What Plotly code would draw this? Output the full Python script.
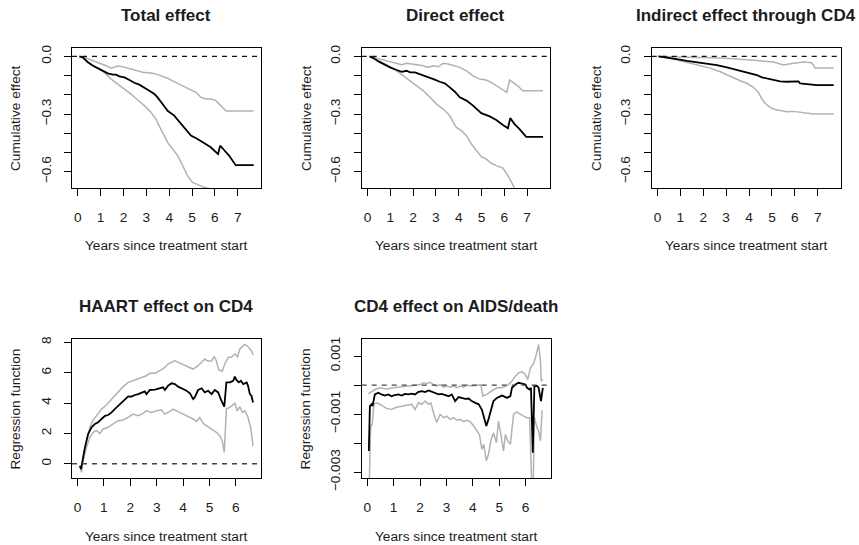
import plotly.graph_objects as go

W, H = 859, 545
FONT = "Liberation Sans, Arial, Helvetica, sans-serif"
TXT = "#1c1c1c"
GREY = "#b2b2b2"

# ---------------- Total effect (cumulative) ----------------
tot_est_t = [0.07, 0.22, 0.44, 0.66, 0.87, 1.09, 1.31, 1.53, 1.67, 1.82, 2.04, 2.26, 2.47, 2.69, 2.91,
             3.13, 3.35, 3.49, 3.71, 3.93, 4.22, 4.44, 4.66, 4.95, 5.24, 5.53, 5.82, 6.14, 6.23, 6.40,
             6.62, 6.91, 7.70]
tot_est = [0.0, -0.005, -0.031, -0.049, -0.061, -0.075, -0.088, -0.095, -0.095, -0.104, -0.109, -0.123,
           -0.137, -0.147, -0.161, -0.179, -0.196, -0.213, -0.248, -0.283, -0.308, -0.338, -0.373, -0.412,
           -0.430, -0.451, -0.473, -0.508, -0.464, -0.487, -0.516, -0.566, -0.566]
tot_hi_t = [0.07, 0.29, 0.58, 0.87, 1.16, 1.46, 1.60, 1.75, 1.97, 2.18, 2.40, 2.62, 2.84, 3.06, 3.28,
            3.49, 3.71, 3.93, 4.15, 4.37, 4.59, 4.80, 5.02, 5.17, 5.39, 5.60, 5.82, 6.04, 6.26, 6.48, 7.70]
tot_hi = [0.0, -0.005, -0.019, -0.031, -0.045, -0.061, -0.057, -0.050, -0.054, -0.061, -0.071, -0.075,
          -0.083, -0.085, -0.088, -0.095, -0.104, -0.114, -0.127, -0.140, -0.153, -0.166, -0.175, -0.187,
          -0.213, -0.222, -0.222, -0.230, -0.256, -0.284, -0.284]
tot_lo_t = [0.07, 0.29, 0.58, 0.87, 1.16, 1.46, 1.75, 2.04, 2.33, 2.62, 2.91, 3.20, 3.42, 3.52, 3.71,
            3.93, 4.15, 4.37, 4.59, 4.80, 5.02, 5.24, 5.53, 5.80, 6.50, 7.70]
tot_lo = [0.0, -0.014, -0.040, -0.061, -0.083, -0.118, -0.144, -0.170, -0.196, -0.227, -0.256, -0.291,
          -0.326, -0.352, -0.395, -0.447, -0.482, -0.516, -0.568, -0.620, -0.655, -0.667, -0.681, -0.690,
          -0.750, -0.820]

# ---------------- Direct effect (cumulative) ----------------
dir_est_t = [0.09, 0.26, 0.48, 0.70, 0.99, 1.28, 1.50, 1.72, 1.86, 2.08, 2.30, 2.52, 2.74, 2.95, 3.17,
             3.39, 3.61, 3.83, 4.05, 4.34, 4.63, 4.99, 5.36, 5.65, 5.94, 6.16, 6.26, 6.45, 6.67, 6.96, 7.70]
dir_est = [0.0, -0.009, -0.026, -0.040, -0.057, -0.071, -0.080, -0.075, -0.083, -0.083, -0.092, -0.104,
           -0.109, -0.121, -0.132, -0.140, -0.161, -0.184, -0.213, -0.230, -0.256, -0.295, -0.312, -0.331,
           -0.357, -0.374, -0.321, -0.352, -0.378, -0.419, -0.419]
dir_hi_t = [0.09, 0.41, 0.70, 0.99, 1.28, 1.50, 1.72, 1.94, 2.15, 2.45, 2.66, 2.88, 3.10, 3.32, 3.54,
            3.76, 4.05, 4.34, 4.63, 4.92, 5.21, 5.50, 5.79, 6.11, 6.23, 6.38, 6.59, 6.81, 7.70]
dir_hi = [0.0, -0.010, -0.019, -0.028, -0.036, -0.043, -0.036, -0.040, -0.045, -0.049, -0.057, -0.049,
          -0.054, -0.036, -0.040, -0.049, -0.057, -0.075, -0.101, -0.118, -0.123, -0.140, -0.161, -0.187,
          -0.123, -0.135, -0.153, -0.179, -0.179]
dir_lo_t = [0.09, 0.41, 0.70, 0.99, 1.28, 1.57, 1.86, 2.15, 2.45, 2.74, 3.03, 3.32, 3.46, 3.61, 3.76,
            3.90, 4.12, 4.34, 4.56, 4.77, 4.99, 5.21, 5.43, 5.65, 5.94, 6.16, 6.30, 6.45, 6.80, 7.70]
dir_lo = [0.0, -0.019, -0.036, -0.054, -0.075, -0.101, -0.127, -0.153, -0.179, -0.213, -0.248, -0.274,
          -0.288, -0.308, -0.343, -0.369, -0.386, -0.412, -0.456, -0.490, -0.522, -0.534, -0.556, -0.568,
          -0.581, -0.620, -0.655, -0.685, -0.750, -0.850]

# ---------------- Indirect effect through CD4 (cumulative) ----------------
ind_est_t = [0.04, 0.41, 0.84, 1.28, 1.72, 2.15, 2.59, 3.03, 3.46, 3.90, 4.34, 4.56, 4.77, 5.07, 5.36,
             5.65, 5.94, 6.16, 6.23, 6.52, 6.96, 7.70]
ind_est = [0.0, -0.005, -0.014, -0.023, -0.031, -0.036, -0.045, -0.057, -0.071, -0.083, -0.097, -0.109,
           -0.114, -0.123, -0.130, -0.132, -0.132, -0.130, -0.140, -0.144, -0.149, -0.149]
ind_hi_t = [0.04, 0.99, 1.86, 2.74, 3.32, 3.90, 4.48, 5.07, 5.50, 5.94, 6.38, 6.74, 6.89, 7.70]
ind_hi = [0.0, -0.002, -0.005, -0.009, -0.012, -0.016, -0.023, -0.029, -0.045, -0.036, -0.029, -0.033,
          -0.061, -0.061]
ind_lo_t = [0.04, 0.55, 0.99, 1.43, 1.86, 2.30, 2.74, 3.17, 3.61, 3.90, 4.19, 4.41, 4.56, 4.70, 4.92,
            5.14, 5.36, 5.65, 5.94, 6.23, 6.52, 6.81, 7.70]
ind_lo = [0.0, -0.010, -0.023, -0.036, -0.049, -0.061, -0.080, -0.104, -0.127, -0.140, -0.161, -0.187,
          -0.222, -0.244, -0.265, -0.276, -0.282, -0.288, -0.286, -0.291, -0.296, -0.300, -0.300]

# ---------------- HAART effect on CD4 (regression function) ----------------
haart_t = [0.09, 0.13, 0.18, 0.28, 0.40, 0.53, 0.66, 0.78, 0.91, 1.04, 1.16, 1.29, 1.41, 1.54, 1.67,
           1.79, 1.92, 2.05, 2.17, 2.30, 2.42, 2.55, 2.61, 2.74, 2.93, 3.12, 3.24, 3.31, 3.43, 3.56,
           3.69, 3.81, 4.00, 4.13, 4.26, 4.38, 4.44, 4.57, 4.70, 4.82, 4.95, 5.08, 5.20, 5.33, 5.45,
           5.56, 5.64, 5.77, 5.90, 5.96, 6.02, 6.11, 6.19, 6.28, 6.41, 6.46, 6.53, 6.59, 6.65]
haart_est = [-0.13, -0.35, 0.09, 1.08, 1.96, 2.40, 2.62, 2.73, 2.95, 3.16, 3.21, 3.38, 3.60, 3.82, 4.04,
             4.26, 4.44, 4.42, 4.53, 4.59, 4.66, 4.77, 4.59, 4.86, 4.88, 4.97, 5.03, 4.86, 5.14, 5.30,
             5.25, 5.08, 4.92, 4.81, 4.64, 4.26, 4.37, 4.86, 4.97, 4.70, 4.81, 4.59, 4.86, 4.70, 4.15,
             3.76, 5.36, 5.36, 5.47, 5.74, 5.52, 5.36, 5.47, 5.25, 5.36, 5.14, 4.59, 4.48, 4.04]
haart_hi_t = [0.09, 0.15, 0.21, 0.34, 0.47, 0.59, 0.78, 0.91, 1.10, 1.29, 1.54, 1.73, 1.92, 2.17, 2.36,
              2.49, 2.61, 2.74, 2.93, 3.12, 3.31, 3.43, 3.56, 3.69, 3.81, 4.00, 4.19, 4.38, 4.57, 4.70,
              4.82, 4.95, 5.08, 5.18, 5.26, 5.35, 5.48, 5.58, 5.71, 5.83, 5.96, 6.06, 6.15, 6.28, 6.34,
              6.46, 6.59, 6.65]
haart_hi = [-0.13, -0.46, 0.42, 1.52, 2.40, 2.88, 3.32, 3.60, 3.89, 4.26, 4.70, 5.08, 5.36, 5.52, 5.63,
            5.69, 5.80, 5.96, 5.96, 6.13, 6.35, 6.57, 6.68, 6.79, 6.68, 6.53, 6.40, 6.24, 6.46, 6.68,
            6.90, 6.75, 6.79, 7.05, 6.79, 6.18, 6.09, 6.57, 7.01, 7.01, 7.23, 7.05, 7.56, 7.78, 7.86,
            7.71, 7.45, 7.16]
haart_lo_t = [0.09, 0.15, 0.21, 0.34, 0.47, 0.59, 0.72, 0.85, 0.97, 1.16, 1.35, 1.54, 1.73, 1.92, 2.10,
              2.30, 2.49, 2.61, 2.80, 2.99, 3.18, 3.31, 3.50, 3.62, 3.81, 4.00, 4.19, 4.38, 4.51, 4.63,
              4.76, 4.89, 5.08, 5.26, 5.39, 5.48, 5.56, 5.64, 5.77, 5.90, 5.96, 6.05, 6.15, 6.24, 6.34,
              6.46, 6.57, 6.65]
haart_lo = [-0.13, -0.57, 0.20, 1.08, 1.74, 2.07, 2.18, 2.00, 2.29, 2.40, 2.62, 2.84, 2.88, 3.05, 3.27,
            3.16, 3.32, 3.49, 3.38, 3.49, 3.54, 3.27, 3.45, 3.60, 3.43, 3.27, 3.16, 2.95, 2.79, 3.05,
            2.66, 2.51, 2.29, 2.07, 1.85, 1.52, 0.75, 3.60, 3.71, 3.93, 3.98, 3.49, 3.76, 3.38, 3.49,
            3.05, 2.29, 1.16]

# ---------------- CD4 effect on AIDS/death (regression function) ----------------
aids_t = [0.06, 0.10, 0.16, 0.20, 0.29, 0.42, 0.54, 0.67, 0.80, 0.92, 1.05, 1.18, 1.30, 1.43, 1.56,
          1.68, 1.81, 1.94, 2.06, 2.19, 2.32, 2.44, 2.57, 2.70, 2.82, 2.95, 3.08, 3.20, 3.33, 3.46,
          3.58, 3.71, 3.84, 3.96, 4.09, 4.22, 4.34, 4.43, 4.51, 4.59, 4.68, 4.78, 4.91, 5.04, 5.10,
          5.16, 5.29, 5.42, 5.48, 5.61, 5.73, 5.86, 5.99, 6.05, 6.15, 6.20, 6.27, 6.33, 6.43, 6.49,
          6.58, 6.65]
aids_est = [-0.00227, -0.00072, -0.00066, -0.00072, -0.00032, -0.00026, -0.00032, -0.00036, -0.00032,
            -0.00038, -0.00034, -0.00032, -0.00036, -0.00030, -0.00032, -0.00029, -0.00032, -0.00023,
            -0.00021, -0.00024, -0.00018, -0.00023, -0.00029, -0.00032, -0.00030, -0.00034, -0.00038,
            -0.00032, -0.00055, -0.00041, -0.00044, -0.00047, -0.00046, -0.00055, -0.00061, -0.00066,
            -0.00084, -0.00112, -0.00141, -0.00118, -0.00084, -0.00055, -0.00044, -0.00038, -0.00036,
            -0.00038, -0.00044, -0.00038, -0.00009, 0.00002, 0.00008, 0.00005, 0.00002, -0.00009,
            -0.00015, -0.00009, -0.00233, -0.00003, -0.00003, -0.00009, -0.00055, -0.00009]
aids_hi_t = [0.04, 0.29, 0.48, 0.73, 0.99, 1.24, 1.49, 1.75, 2.00, 2.13, 2.25, 2.38, 2.51, 2.63, 2.76,
             2.89, 3.01, 3.14, 3.27, 3.39, 3.52, 3.65, 3.77, 3.96, 4.15, 4.30, 4.38, 4.53, 4.66, 4.78,
             4.91, 5.04, 5.16, 5.35, 5.48, 5.61, 5.73, 5.86, 5.99, 6.08, 6.18, 6.28, 6.37, 6.49, 6.56,
             6.59, 6.65]
aids_hi = [-0.00030, -0.00015, -0.00009, -0.00013, -0.00009, -0.00007, -0.00003, -0.00001, 0.00002,
           0.00008, 0.00005, 0.00010, 0.00002, -0.00003, 0.00002, -0.00007, -0.00003, -0.00007, -0.00003,
           -0.00009, -0.00003, -0.00007, 0.00000, -0.00003, 0.00000, 0.00002, -0.00038, -0.00032,
           -0.00023, -0.00015, -0.00009, -0.00009, -0.00007, 0.00002, 0.00014, 0.00031, 0.00042,
           0.00046, 0.00037, 0.00019, 0.00060, 0.00071, 0.00094, 0.00140, 0.00082, 0.00014, 0.00019]
aids_lo_t = [0.08, 0.13, 0.19, 0.25, 0.35, 0.54, 0.73, 0.92, 1.11, 1.30, 1.49, 1.68, 1.81, 1.94, 2.06,
             2.19, 2.32, 2.41, 2.51, 2.63, 2.76, 2.89, 3.01, 3.14, 3.27, 3.39, 3.52, 3.65, 3.77, 3.90,
             4.03, 4.15, 4.25, 4.34, 4.41, 4.51, 4.59, 4.68, 4.78, 4.89, 4.97, 5.06, 5.16, 5.23, 5.32,
             5.42, 5.48, 5.54, 5.65, 5.80, 5.92, 6.05, 6.15, 6.22, 6.24, 6.29, 6.33, 6.43, 6.49, 6.56,
             6.62, 6.65]
aids_lo = [-0.00330, -0.00141, -0.00135, -0.00066, -0.00061, -0.00069, -0.00080, -0.00084, -0.00076,
           -0.00072, -0.00070, -0.00066, -0.00084, -0.00061, -0.00066, -0.00055, -0.00066, -0.00061,
           -0.00095, -0.00129, -0.00101, -0.00112, -0.00107, -0.00118, -0.00112, -0.00121, -0.00118,
           -0.00126, -0.00121, -0.00126, -0.00141, -0.00158, -0.00170, -0.00221, -0.00204, -0.00261,
           -0.00238, -0.00192, -0.00164, -0.00198, -0.00124, -0.00170, -0.00227, -0.00170, -0.00192,
           -0.00204, -0.00147, -0.00101, -0.00092, -0.00101, -0.00107, -0.00112, -0.00112, -0.00318,
           -0.00350, -0.00324, -0.00112, -0.00147, -0.00158, -0.00192, -0.00089, -0.00089]

# ---------------- axis ticks ----------------
top_xticks = [0, 1, 2, 3, 4, 5, 6, 7]
bot_xticks = [0, 1, 2, 3, 4, 5, 6]
cum_yticks = [0.0, -0.1, -0.2, -0.3, -0.4, -0.5, -0.6]
cum_ylabels = ["0.0", "", "", "\u22120.3", "", "", "\u22120.6"]
haart_yticks = [0, 2, 4, 6, 8]
haart_ylabels = ["0", "2", "4", "6", "8"]
aids_yticks = [0.001, 0.0, -0.001, -0.002, -0.003]
aids_ylabels = ["0.001", "", "\u22120.001", "", "\u22120.003"]

XLAB = "Years since treatment start"


def px_x(p):
    return p / W


def px_y(p):
    return 1 - p / H


panels = [
    dict(title="Total effect", ylab="Cumulative effect", box=(72, 260.7, 48.3, 188.3),
         xr=[-0.255, 8.005], yr=[-0.686, 0.042], xt=top_xticks, yt=cum_yticks, ytl=cum_ylabels,
         series=[(tot_hi_t, tot_hi, GREY), (tot_lo_t, tot_lo, GREY), (tot_est_t, tot_est, "#000000")],
         dash="#111111", xlab_y=245.7, title_y=15.9, ylab_x=15.8),
    dict(title="Direct effect", ylab="Cumulative effect", box=(361.7, 550.0, 48.3, 188.3),
         xr=[-0.255, 8.005], yr=[-0.686, 0.042], xt=top_xticks, yt=cum_yticks, ytl=cum_ylabels,
         series=[(dir_hi_t, dir_hi, GREY), (dir_lo_t, dir_lo, GREY), (dir_est_t, dir_est, "#000000")],
         dash="#111111", xlab_y=245.7, title_y=15.9, ylab_x=305.8),
    dict(title="Indirect effect through CD4", ylab="Cumulative effect", box=(651.7, 840.7, 48.3, 188.3),
         xr=[-0.255, 8.005], yr=[-0.686, 0.042], xt=top_xticks, yt=cum_yticks, ytl=cum_ylabels,
         series=[(ind_hi_t, ind_hi, GREY), (ind_lo_t, ind_lo, GREY), (ind_est_t, ind_est, "#000000")],
         dash="#111111", xlab_y=245.7, title_y=15.9, ylab_x=595.8),
    dict(title="HAART effect on CD4", ylab="Regression function", box=(72, 260.7, 339.3, 478.3),
         xr=[-0.21, 6.94], yr=[-0.96, 8.2], xt=bot_xticks, yt=haart_yticks, ytl=haart_ylabels,
         series=[(haart_hi_t, haart_hi, GREY), (haart_lo_t, haart_lo, GREY), (haart_t, haart_est, "#000000")],
         dash="#444444", xlab_y=536.0, title_y=306.5, ylab_x=15.8),
    dict(title="CD4 effect on AIDS/death", ylab="Regression function", box=(361.7, 550.5, 339.0, 478.3),
         xr=[-0.21, 6.94], yr=[-0.00321, 0.00159], xt=bot_xticks, yt=aids_yticks, ytl=aids_ylabels,
         series=[(aids_hi_t, aids_hi, GREY), (aids_lo_t, aids_lo, GREY), (aids_t, aids_est, "#000000")],
         dash="#444444", xlab_y=536.0, title_y=306.5, ylab_x=305.8),
]

fig = go.Figure()
layout = dict(
    width=W, height=H, margin=dict(l=0, r=0, t=0, b=0, pad=0),
    paper_bgcolor="white", plot_bgcolor="white", showlegend=False,
    font=dict(family=FONT, size=13.7, color=TXT),
)
annotations = []
shapes = []

for i, p in enumerate(panels, start=1):
    xa = "x" if i == 1 else f"x{i}"
    ya = "y" if i == 1 else f"y{i}"
    x0, x1, y0, y1 = p["box"]
    for xs, ys, col in p["series"]:
        fig.add_trace(go.Scatter(
            x=xs, y=ys, mode="lines", xaxis=xa, yaxis=ya,
            line=dict(color=col, width=1.8 if col == "#000000" else 1.5),
            hoverinfo="skip"))
    common = dict(showgrid=False, zeroline=False, showline=True, mirror=True,
                  linecolor="#000000", linewidth=1, ticks="outside", ticklen=7,
                  tickwidth=1, tickcolor="#000000", automargin=False,
                  tickfont=dict(family=FONT, size=13.7, color=TXT))
    layout["xaxis" if i == 1 else f"xaxis{i}"] = dict(
        domain=[px_x(x0), px_x(x1)], range=p["xr"], anchor=ya,
        tickmode="array", tickvals=p["xt"], ticktext=[str(v) for v in p["xt"]],
        ticklabelstandoff=9, **common)
    layout["yaxis" if i == 1 else f"yaxis{i}"] = dict(
        domain=[px_y(y1), px_y(y0)], range=p["yr"], anchor=xa,
        tickmode="array", tickvals=p["yt"], ticktext=p["ytl"], tickangle=-90,
        ticklabelstandoff=8, **common)
    # horizontal reference line at zero
    shapes.append(dict(type="line", xref=f"{xa} domain", yref=ya, x0=0, x1=1, y0=0, y1=0,
                       line=dict(color=p["dash"], width=1.3, dash="5px,5px"), layer="above"))
    cx = (x0 + x1) / 2
    annotations.append(dict(text=f"<b>{p['title']}</b>", xref="paper", yref="paper",
                            x=px_x(cx), y=px_y(p["title_y"]), xanchor="center", yanchor="middle",
                            showarrow=False, font=dict(family=FONT, size=17, color=TXT)))
    annotations.append(dict(text=XLAB, xref="paper", yref="paper",
                            x=px_x(cx), y=px_y(p["xlab_y"]), xanchor="center", yanchor="middle",
                            showarrow=False, font=dict(family=FONT, size=13.7, color=TXT)))
    annotations.append(dict(text=p["ylab"], xref="paper", yref="paper", textangle=-90,
                            x=px_x(p["ylab_x"]), y=px_y((y0 + y1) / 2), xanchor="center",
                            yanchor="middle", showarrow=False,
                            font=dict(family=FONT, size=13.7, color=TXT)))

layout["annotations"] = annotations
layout["shapes"] = shapes
fig.update_layout(**layout)
fig.write_html("out.html")
